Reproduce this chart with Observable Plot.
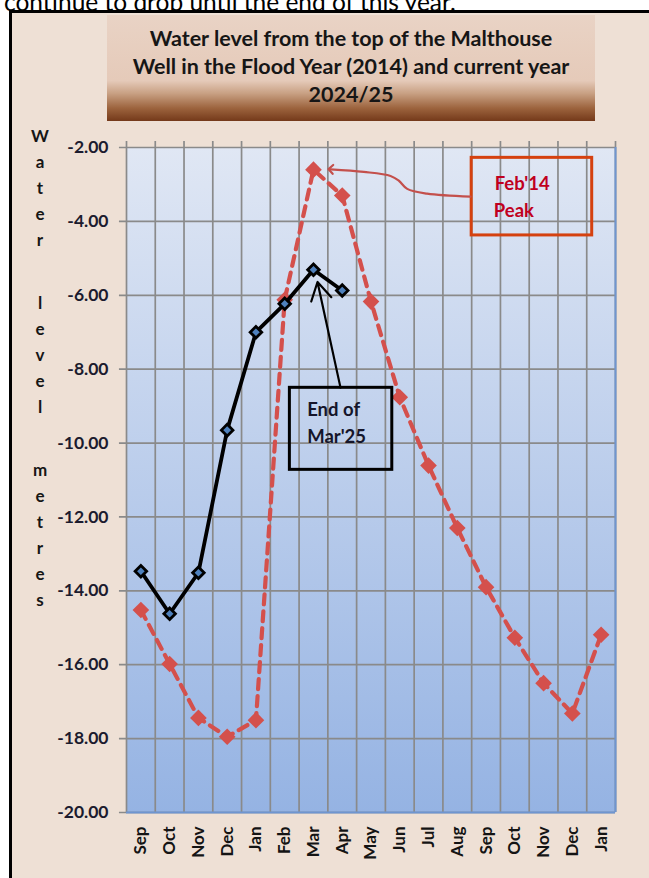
<!DOCTYPE html>
<html><head><meta charset="utf-8">
<script src="https://cdn.jsdelivr.net/npm/d3@7"></script>
<script src="https://cdn.jsdelivr.net/npm/@observablehq/plot@0.6"></script>
<style>
html,body{margin:0;padding:0;width:649px;height:878px;overflow:hidden;background:#fff;}
#page{position:relative;width:649px;height:878px;overflow:hidden;font-family:Lato,"Open Sans",sans-serif;}
#lead{position:absolute;left:4px;top:-10px;font-size:24.5px;line-height:24px;color:#000;white-space:nowrap;font-family:Lato,sans-serif;}
#frame{position:absolute;left:9px;top:10px;width:700px;height:900px;border:3px solid #000;background:#eee0d5;}
#title{position:absolute;left:107px;top:15px;width:488px;height:106px;box-sizing:border-box;padding-top:9px;
  background:linear-gradient(to bottom,#e9d3c5 0%,#e5cab9 62%,#c8a083 74%,#9c633d 88%,#74391a 100%);
  text-align:center;font-weight:bold;font-size:21.5px;line-height:28px;color:#161616;white-space:nowrap;}
#ylab{position:absolute;left:28px;top:123px;width:24px;text-align:center;font-weight:bold;font-size:17px;line-height:26px;color:#161616;}
#ylab div{margin-bottom:37px;}
#chart{position:absolute;left:0;top:0;}
</style>
</head><body>
<div id="page">
  <div id="lead">continue to drop until the end of this year.</div>
  <div id="frame"></div>
  <div id="title"></div>
  <div id="ylab"></div>
  <div id="chart"></div>
</div>
<script>
// ---- data ----
const months = ["Sep","Oct","Nov","Dec","Jan","Feb","Mar","Apr","May","Jun","Jul","Aug","Sep","Oct","Nov","Dec","Jan"];
const flood2014 = [-14.52,-15.98,-17.44,-17.95,-17.50,-6.12,-2.60,-3.30,-6.17,-8.76,-10.61,-12.30,-13.90,-15.27,-16.50,-17.32,-15.19];
const current2425 = [-13.47,-14.62,-13.51,-9.65,-7.00,-6.23,-5.31,-5.87];
const yTicks = [-2,-4,-6,-8,-10,-12,-14,-16,-18,-20];
const titleLines = ["Water level from the top of the Malthouse","Well in the Flood Year (2014) and current year","2024/25"];
const yTitleWords = ["Water","level","metres"];
const peakNote = ["Feb'14","Peak"];
const endNote = ["End of","Mar'25"];

// ---- text outside the svg ----
document.getElementById("title").innerHTML = titleLines.join("<br>");
document.getElementById("ylab").innerHTML = yTitleWords.map(w => "<div>" + w.split("").join("<br>") + "</div>").join("");

// ---- annotation geometry (data coordinates) ----
const peakBox = {x1: 11.5, x2: 15.69, y1: -2.28, y2: -4.38};
const peakText = [{x: 12.3, y: -3.0, t: peakNote[0]}, {x: 12.27, y: -3.73, t: peakNote[1]}];
const peakArrow = [[11.46,-3.33],[9.95,-3.25],[9.26,-3.12],[8.97,-2.90],[8.68,-2.77],[7.75,-2.66],[6.60,-2.59]];
const endBox = {x1: 5.18, x2: 8.74, y1: -8.505, y2: -10.725};
const endText = [{x: 5.78, y: -9.12, t: endNote[0]}, {x: 5.78, y: -9.83, t: endNote[1]}];
const endArrow = {x1: 6.94, y1: -8.50, x2: 6.14, y2: -5.64};

const floodData = flood2014.map((v, i) => ({i, v}));
const curData = current2425.map((v, i) => ({i, v}));
const bounds = d3.range(months.length + 1).map(k => k - 0.5);
const grid = "#8a8a8a";

const chart = Plot.plot({
  width: 649, height: 878,
  marginLeft: 126, marginRight: 34, marginTop: 147, marginBottom: 66,
  style: {fontFamily: "Lato, sans-serif", background: "transparent", overflow: "visible"},
  x: {type: "linear", domain: [-0.5, months.length - 0.5]},
  y: {domain: [-20, -2]},
  marks: [
    Plot.frame({fill: "url(#plotBg)", stroke: "none"}),
    Plot.ruleX(bounds, {y1: -20, y2: -1.84, stroke: grid, strokeWidth: 1.7}),
    Plot.ruleY(yTicks, {x1: -0.745, x2: months.length - 0.5, stroke: grid, strokeWidth: 1.7}),
    Plot.ruleX([months.length - 0.5], {y1: -20, y2: -2, stroke: "#6f95d0", strokeWidth: 2}),
    Plot.ruleY([-20], {x1: -0.5, x2: months.length - 0.5, stroke: "#6f95d0", strokeWidth: 2}),
    Plot.axisY(yTicks, {tickFormat: d => d.toFixed(2), tickSize: 0, tickPadding: 18, fontSize: 17.5, fontWeight: "bold", fill: "#1b1b2e", label: null}),
    Plot.axisX(d3.range(months.length), {tickFormat: i => months[i], tickRotate: -90, tickSize: 0, tickPadding: 14, fontSize: 17, fontWeight: "bold", fill: "#141414", label: null}),
    // 2014 series
    Plot.line(floodData, {x: "i", y: "v", stroke: "#d4504c", strokeWidth: 4.2, strokeDasharray: "10,7"}),
    Plot.dot(floodData, {x: "i", y: "v", symbol: "diamond2", r: 7.5, fill: "#d4504c", stroke: "none"}),
    // annotations
    Plot.rect([peakBox], {x1: "x1", x2: "x2", y1: "y1", y2: "y2", fill: "none", stroke: "#d5410f", strokeWidth: 3}),
    Plot.text(peakText, {x: "x", y: "y", text: "t", textAnchor: "start", fontSize: 18.5, fontWeight: "bold", fill: "#c0001e"}),
    Plot.line(peakArrow, {x: d => d[0], y: d => d[1], curve: "catmull-rom", stroke: "#c4504c", strokeWidth: 2.2, markerEnd: "arrow"}),
    Plot.rect([endBox], {x1: "x1", x2: "x2", y1: "y1", y2: "y2", fill: "none", stroke: "#000", strokeWidth: 3}),
    Plot.text(endText, {x: "x", y: "y", text: "t", textAnchor: "start", fontSize: 18.5, fontWeight: "bold", fill: "#15152a"}),
    Plot.arrow([endArrow], {x1: "x1", y1: "y1", x2: "x2", y2: "y2", stroke: "#000", strokeWidth: 2.2, headLength: 14}),
    // 2024/25 series
    Plot.line(curData, {x: "i", y: "v", stroke: "#000", strokeWidth: 3.8}),
    Plot.dot(curData, {x: "i", y: "v", symbol: "diamond2", r: 5.2, fill: "#4f81bd", stroke: "#000", strokeWidth: 2.8})
  ]
});

// background gradient for plot area
const defs = d3.select(chart).insert("defs", ":first-child");
const g = defs.append("linearGradient").attr("id", "plotBg").attr("x1", 0).attr("y1", 0).attr("x2", 0).attr("y2", 1);
g.append("stop").attr("offset", "0%").attr("stop-color", "#e0e7f4");
g.append("stop").attr("offset", "100%").attr("stop-color", "#95b3e3");

document.getElementById("chart").appendChild(chart);
</script>
</body></html>
